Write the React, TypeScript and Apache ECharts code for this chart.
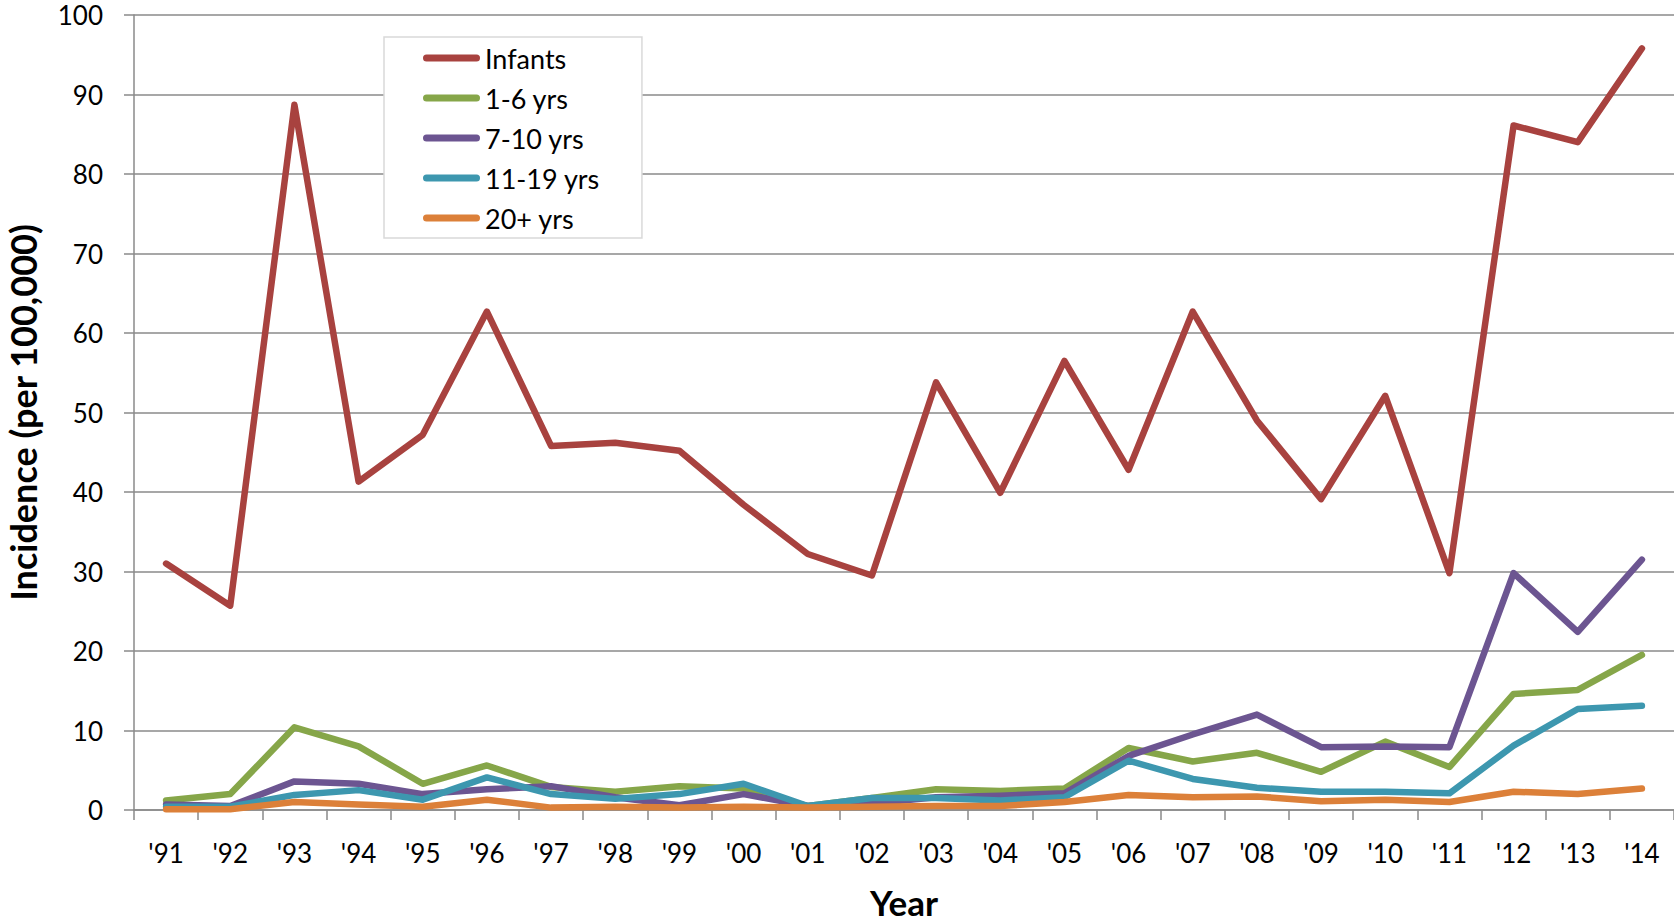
import React, { useEffect, useRef } from "react";
import * as echarts from "echarts";

const years = ["'91", "'92", "'93", "'94", "'95", "'96", "'97", "'98", "'99", "'00", "'01", "'02", "'03", "'04", "'05", "'06", "'07", "'08", "'09", "'10", "'11", "'12", "'13", "'14"];

const infants = [31.0, 25.7, 88.7, 41.3, 47.2, 62.7, 45.8, 46.2, 45.2, 38.4, 32.2, 29.5, 53.8, 39.9, 56.5, 42.8, 62.7, 49.0, 39.1, 52.1, 29.8, 86.1, 84.0, 95.8];
const yrs1to6 = [1.2, 2.0, 10.4, 8.0, 3.3, 5.6, 2.9, 2.3, 3.0, 2.7, 0.5, 1.5, 2.6, 2.4, 2.7, 7.8, 6.1, 7.2, 4.8, 8.6, 5.4, 14.6, 15.1, 19.5];
const yrs7to10 = [0.7, 0.5, 3.6, 3.3, 2.0, 2.6, 3.0, 1.6, 0.6, 2.0, 0.5, 0.8, 1.6, 1.8, 2.1, 6.8, 9.5, 12.0, 7.9, 8.0, 7.9, 29.8, 22.4, 31.5];
const yrs11to19 = [0.4, 0.4, 1.9, 2.5, 1.3, 4.1, 2.0, 1.4, 2.0, 3.3, 0.5, 1.5, 1.5, 1.2, 1.6, 6.2, 3.9, 2.8, 2.3, 2.3, 2.1, 8.1, 12.7, 13.1];
const yrs20plus = [0.1, 0.1, 1.0, 0.7, 0.4, 1.3, 0.3, 0.4, 0.3, 0.4, 0.3, 0.4, 0.5, 0.5, 1.0, 1.9, 1.6, 1.7, 1.1, 1.3, 1.0, 2.3, 2.0, 2.7];

const seriesNames = ["Infants", "1-6 yrs", "7-10 yrs", "11-19 yrs", "20+ yrs"];
const seriesData = [infants, yrs1to6, yrs7to10, yrs11to19, yrs20plus];
const seriesColors = ["#A8423F", "#86A649", "#6C5591", "#3D97AF", "#DC8039"];

const FONT = "Lato, 'Open Sans', sans-serif";

export default function App() {
  const ref = useRef<HTMLDivElement>(null);
  useEffect(() => {
    if (!ref.current) return;
    const chart = echarts.init(ref.current, undefined, { renderer: "svg" });
    chart.setOption({
      animation: false,
      backgroundColor: "#ffffff",
      textStyle: { fontFamily: FONT },
      grid: { left: 134, right: 0, top: 15, bottom: 112, containLabel: false, outerBoundsMode: "none" },
      legend: {
        orient: "vertical",
        left: 384,
        top: 37,
        data: seriesNames,
        icon: "path://M3.5,0 H53.5 A3.5,3.5 0 0 1 53.5,7 H3.5 A3.5,3.5 0 0 1 3.5,0 Z",
        itemWidth: 57,
        itemHeight: 7,
        itemGap: 10,
        itemTextGap: 3,
        padding: [6, 42, 5, 39],
        backgroundColor: "#ffffff",
        borderColor: "#d9d9d9",
        borderWidth: 1.5,
        textStyle: { fontFamily: FONT, fontSize: 27, color: "#000", lineHeight: 30 },
      },
      xAxis: {
        type: "category",
        data: years,
        boundaryGap: true,
        name: "Year",
        nameLocation: "middle",
        nameGap: 75,
        nameTextStyle: { fontFamily: FONT, fontSize: 35, lineHeight: 34, fontWeight: "bold", color: "#000" },
        axisLine: { show: true, lineStyle: { color: "#8a8a8a", width: 1.5 } },
        axisTick: { show: true, alignWithLabel: false, length: 10, inside: false, lineStyle: { color: "#8a8a8a", width: 1.5 } },
        axisLabel: { fontFamily: FONT, fontSize: 26, color: "#000", margin: 30, interval: 0 },
        splitLine: { show: false },
      },
      yAxis: {
        type: "value",
        min: 0,
        max: 100,
        interval: 10,
        name: "Incidence (per 100,000)",
        nameLocation: "middle",
        nameGap: 96,
        nameRotate: 90,
        nameTextStyle: { fontFamily: FONT, fontSize: 36, lineHeight: 30, fontWeight: "bold", color: "#000" },
        axisLine: { show: true, lineStyle: { color: "#8a8a8a", width: 1.5 } },
        axisTick: { show: true, length: 10, inside: false, lineStyle: { color: "#8a8a8a", width: 1.5 } },
        axisLabel: { fontFamily: FONT, fontSize: 26, color: "#000", margin: 31 },
        splitLine: { show: true, lineStyle: { color: "#8a8a8a", width: 1.5 } },
      },
      series: seriesNames.map((name, i) => ({
        name,
        type: "line",
        data: seriesData[i],
        symbol: "none",
        color: seriesColors[i],
        lineStyle: { color: seriesColors[i], width: 6.5, cap: "round", join: "round" },
        itemStyle: { color: seriesColors[i] },
        emphasis: { disabled: true },
      })),
    });
    return () => chart.dispose();
  }, []);
  return (
    <div
      ref={ref}
      style={{ position: "absolute", left: 0, top: 0, width: 1674, height: 922, background: "#fff" }}
    />
  );
}
